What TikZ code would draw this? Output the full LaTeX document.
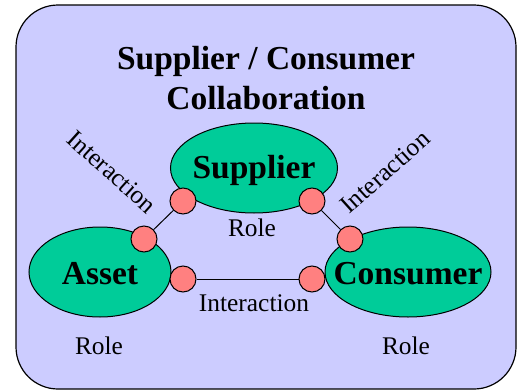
\documentclass[tikz,border=0pt]{standalone}
\usepackage{fontspec}
\setmainfont{Liberation Serif}
\usetikzlibrary{shapes.geometric}
\definecolor{bg}{HTML}{CCCCFF}
\definecolor{grn}{HTML}{00CC99}
\definecolor{pin}{HTML}{FF8080}
\tikzset{
  obj/.style={ellipse, draw=black, line width=1pt, fill=grn, inner sep=0pt, font=\fontsize{33.5}{36}\selectfont\bfseries},
  port/.style={circle, draw=black, line width=1pt, fill=pin, minimum size=26pt, inner sep=0pt},
  lbl/.style={font=\fontsize{25.4}{28}\selectfont, inner sep=0pt},
  link/.style={line width=1pt}
}
\begin{document}
\begin{tikzpicture}[x=1pt,y=-1pt]
\useasboundingbox (0,0) rectangle (528,391);
\node[draw=black, line width=1.2pt, fill=bg, rounded corners=42pt, minimum width=500pt, minimum height=384pt, inner sep=0pt] (frame) at (266,197) {};
\node[font=\fontsize{33.5}{40}\selectfont\bfseries, align=center] (title) at (266,78) {Supplier / Consumer\\Collaboration};
\node[obj, minimum width=167pt, minimum height=90pt] (sup) at (254,168) {};
\node[obj, minimum width=142pt, minimum height=90pt] (ast) at (100,272) {};
\node[obj, minimum width=166pt, minimum height=90pt] (con) at (408,272) {};
\node[font=\fontsize{33.5}{36}\selectfont\bfseries] (supt) at (254,170) {Supplier};
\node[font=\fontsize{33.5}{36}\selectfont\bfseries] (astt) at (100,274) {Asset};
\node[font=\fontsize{33.5}{36}\selectfont\bfseries] (cont) at (408,274) {Consumer};
\node[port] (p1) at (183,201) {};
\node[port] (p2) at (312,201) {};
\node[port] (p3) at (144,239) {};
\node[port] (p4) at (350,239) {};
\node[port] (p5) at (183,279) {};
\node[port] (p6) at (312,279) {};
\draw[link] (p1) -- (p3);
\draw[link] (p2) -- (p4);
\draw[link] (p5) -- (p6);
\node[lbl] (r1) at (252,228) {Role};
\node[lbl] (r2) at (99,346) {Role};
\node[lbl] (r3) at (406,346) {Role};
\node[lbl] (i1) at (254,303) {Interaction};
\node[lbl, rotate=-42] (i2) at (112,172) {Interaction};
\node[lbl, rotate=42] (i3) at (385,172) {Interaction};
\end{tikzpicture}
\end{document}
